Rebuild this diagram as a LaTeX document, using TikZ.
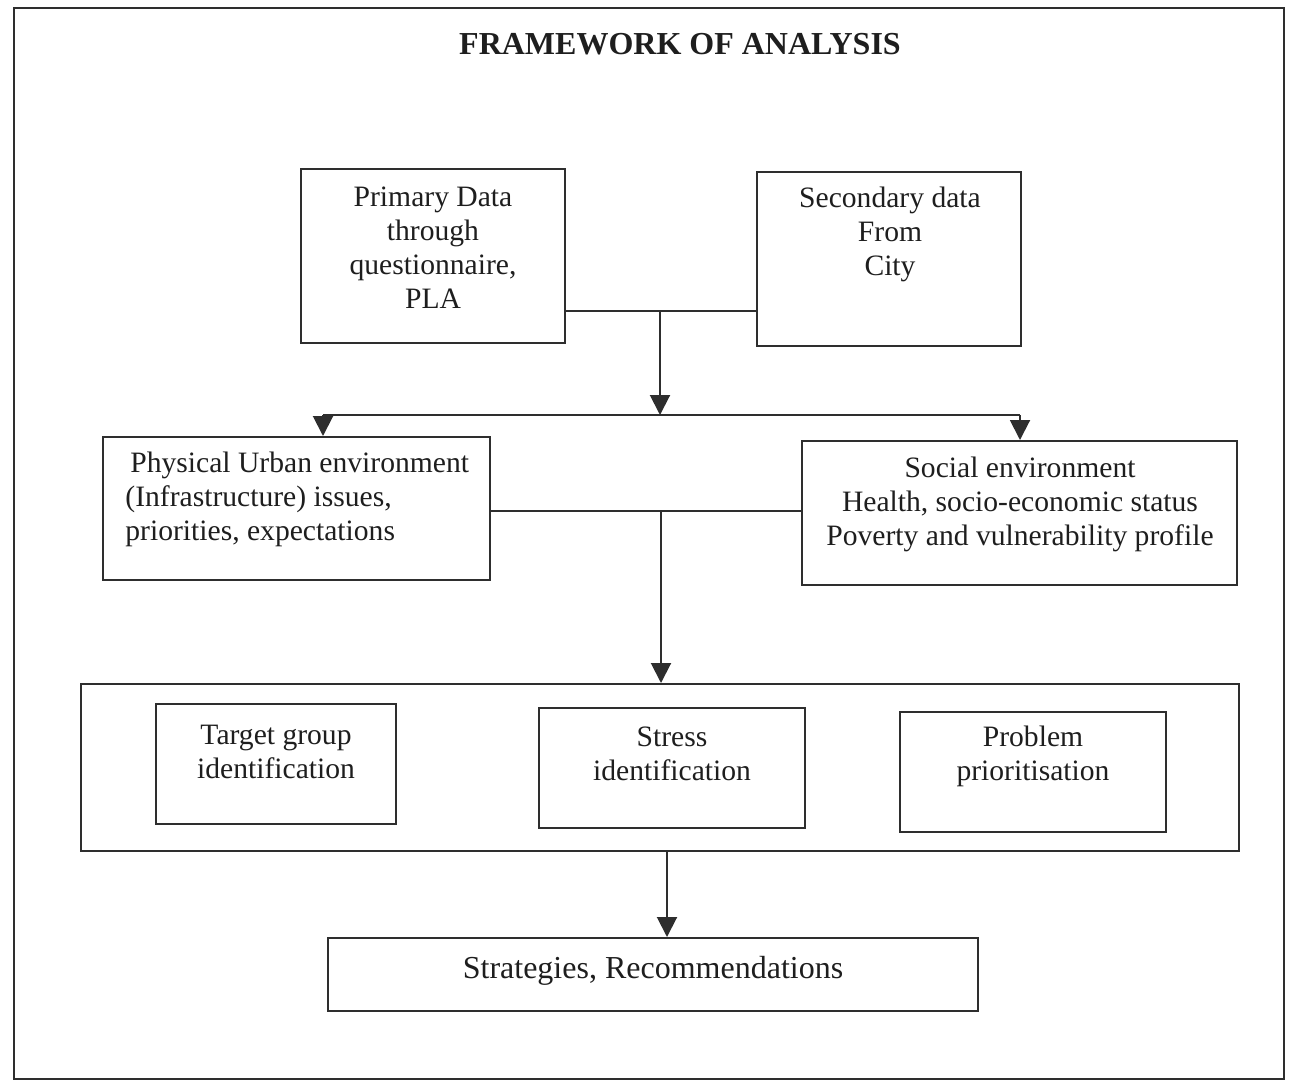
\documentclass[tikz,border=0pt]{standalone}
\usepackage{fontspec}
\setmainfont{Liberation Serif}
\usetikzlibrary{arrows.meta}
\definecolor{ink}{HTML}{2E2E2E}
\definecolor{txtc}{HTML}{1E1E1E}
\tikzset{
  box/.style={draw=ink, line width=1pt, rectangle, inner sep=0pt},
  txt/.style={text=txtc, align=center, font=\fontsize{14.8}{17}\selectfont, inner sep=0pt},
  conn/.style={draw=ink, line width=1pt},
  arr/.style={conn, -{Triangle[width=10pt,length=10pt]}, shorten >=0pt}
}
\begin{document}
\begin{tikzpicture}[x=0.5pt,y=-0.5pt]
\useasboundingbox (0,0) rectangle (1301,1082);
% outer frame
\node[box, minimum width=635pt, minimum height=535.5pt] (frame) at (649,543.5) {};
\node[txt, font=\fontsize{16}{19}\selectfont\bfseries] (title) at (680,44) {FRAMEWORK OF ANALYSIS};
% boxes
\node[box, minimum width=132pt, minimum height=87pt] (prim) at (433,256) {};
\node[box, minimum width=132pt, minimum height=87pt] (sec) at (889,259) {};
\node[box, minimum width=193.5pt, minimum height=71.5pt] (phys) at (296.5,508.5) {};
\node[box, minimum width=217.5pt, minimum height=72pt] (soc) at (1019.5,513) {};
\node[box, minimum width=579pt, minimum height=83.5pt] (big) at (660,767.5) {};
\node[box, minimum width=120pt, minimum height=60pt] (targ) at (276,764) {};
\node[box, minimum width=133pt, minimum height=60pt] (stress) at (672,768) {};
\node[box, minimum width=133pt, minimum height=60pt] (prob) at (1033,772) {};
\node[box, minimum width=325pt, minimum height=36.5pt] (strat) at (653,974.5) {};
% texts
\node[txt] (primt) at (433,247.5) {Primary Data\\through\\questionnaire,\\PLA};
\node[txt] (sect) at (890,234.5) {Secondary data\\From\\City};
\node[txt, align=left, anchor=west] (physt) at (125,499) {\hspace*{2.5pt}Physical Urban environment\\(Infrastructure) issues,\\priorities, expectations};
\node[txt] (soct) at (1020,504) {Social environment\\Health, socio-economic status\\Poverty and vulnerability profile};
\node[txt] (targt) at (276,751.5) {Target group\\identification};
\node[txt] (stresst) at (672,753.5) {Stress\\identification};
\node[txt] (probt) at (1033,756) {Problem\\prioritisation};
\node[txt, font=\fontsize{16}{19}\selectfont] (stratt) at (653,971) {Strategies, Recommendations};
% connectors
\coordinate (j1) at (660,311);
\coordinate (j2) at (660,415);
\coordinate (bl) at (323,415);
\coordinate (br) at (1020,415);
\coordinate (j3) at (661,511);
\coordinate (j4) at (667,851);
\draw[conn] (prim.east |- j1) -- (sec.west |- j1);
\draw[arr] (j1) -- (j2);
\draw[conn] (bl) -- (br);
\draw[arr] (bl) -- (bl |- phys.north);
\draw[arr] (br) -- (br |- soc.north);
\draw[conn] (phys.east |- j3) -- (soc.west |- j3);
\draw[arr] (j3) -- (j3 |- big.north);
\draw[arr] (j4) -- (j4 |- strat.north);
\end{tikzpicture}
\end{document}
